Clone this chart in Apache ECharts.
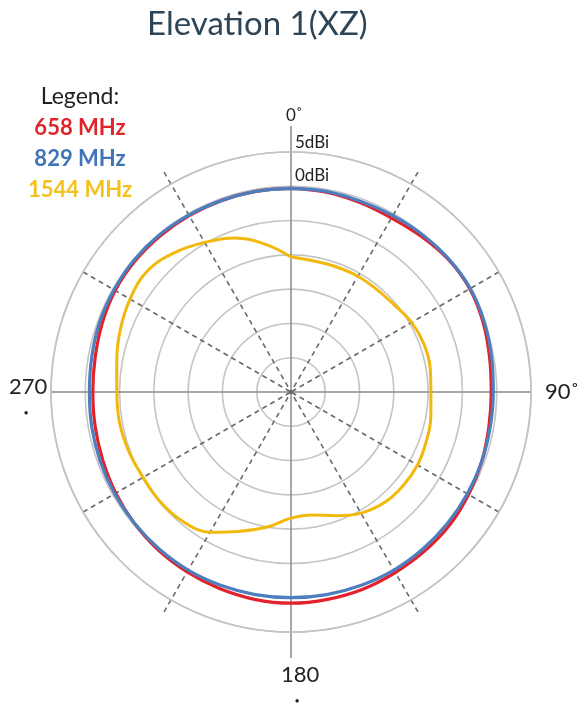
<!DOCTYPE html>
<html>
<head>
<meta charset="utf-8">
<script src="https://cdn.jsdelivr.net/npm/echarts@6/dist/echarts.min.js"></script>
<style>
html,body{margin:0;padding:0;background:#fff;}
#main{width:581px;height:705px;}
</style>
</head>
<body>
<div id="main"></div>
<script>
// Angles (degrees, clockwise from 0 at top), 10-degree steps, closed at 360
const angles = [0,10,20,30,40,50,60,70,80,90,100,110,120,130,140,150,160,170,180,190,200,210,220,230,240,250,260,270,280,290,300,310,320,330,340,350,360];
// Gain in dBi
const red658 = [-0.3,-0.4,-0.6,-0.7,-0.4,0.0,0.1,-0.2,-0.6,-0.8,-0.7,-0.4,-0.1,0.2,0.3,0.4,0.6,0.7,0.8,0.7,0.5,0.3,0.1,-0.2,-0.5,-0.8,-1.0,-1.1,-1.0,-0.7,-0.4,-0.3,-0.3,-0.3,-0.3,-0.3,-0.3];
const blue829 = [-0.3,-0.3,-0.4,-0.3,-0.1,0.1,0.2,0.0,-0.3,-0.5,-0.5,-0.4,-0.3,-0.2,-0.1,0.0,0.0,0.0,0.0,0.0,0.0,0.0,-0.1,-0.2,-0.3,-0.4,-0.5,-0.6,-0.5,-0.3,-0.2,-0.1,-0.1,-0.2,-0.3,-0.3,-0.3];
const yellow1544 = [-10.3,-10.6,-10.6,-10.5,-10.5,-10.3,-9.7,-9.4,-9.4,-9.6,-9.3,-9.0,-8.7,-8.7,-8.9,-9.6,-10.8,-11.8,-11.6,-10.0,-8.4,-6.4,-5.4,-5.1,-5.1,-4.8,-4.6,-4.6,-4.2,-3.5,-2.9,-2.6,-3.5,-4.8,-6.1,-8.1,-10.3];
const seriesNames = ['658 MHz','829 MHz','1544 MHz'];
const radiusTicks = [-30,5,5]; // min, max, interval

const chart = echarts.init(document.getElementById('main'));
const C = [291, 392];
const R = 240;
const FONT = 'Lato';

function deco(startAngle, radius, dashed, color){
  return {
    polar: {center: C, radius: radius},
    angle: {type:'value', min:0, max:360, interval:180, startAngle: startAngle,
      axisLine:{show:false}, axisTick:{show:false}, axisLabel:{show:false},
      splitLine:{show:true, lineStyle:{color: color, width: dashed?1.6:1.5, type: dashed?[5,4]:'solid'}}},
    radius: {type:'value', min:0, max:1, show:false, splitLine:{show:false}}
  };
}
const decos = [
  deco(90, 266, false, '#8a8a8a'),   // vertical axis extended
  deco(180, R, false, '#8a8a8a'),    // horizontal axis
  deco(60, 254, true, '#6a6a6a'),    // 30 / 210
  deco(120, 254, true, '#6a6a6a'),   // 330 / 150
  deco(30, R, true, '#6a6a6a'),      // 60 / 240
  deco(150, R, true, '#6a6a6a')      // 300 / 120
];

const polar = [{center: C, radius: R}];
const angleAxis = [{polarIndex:0, type:'value', min:0, max:360, interval:90, startAngle:90, clockwise:true,
  axisLine:{show:true, lineStyle:{color:'#c4c4c4', width:1.6}},
  axisTick:{show:false}, axisLabel:{show:false}, splitLine:{show:false}}];
const radiusAxis = [{polarIndex:0, type:'value', min:radiusTicks[0], max:radiusTicks[1], interval:radiusTicks[2],
  axisLine:{show:false}, axisTick:{show:false}, axisLabel:{show:false},
  splitLine:{show:true, lineStyle:{color:'#c4c4c4', width:1.6}}}];
decos.forEach((d,i)=>{
  polar.push(d.polar);
  d.angle.polarIndex = i+1; d.radius.polarIndex = i+1;
  angleAxis.push(d.angle); radiusAxis.push(d.radius);
});

function mk(vals){ return angles.map((a,i)=>[vals[i], a]); }

const txt = (x,y,t,size,extra)=>Object.assign({type:'text', x:x, y:y, z:10,
  style:Object.assign({text:t, font: 'normal '+size+'px '+FONT, fill:'#222', textVerticalAlign:'middle'}, extra||{})});

chart.setOption({
  animation:false,
  title:{text:'Elevation 1(XZ)', left:142, top:3,
    textStyle:{fontFamily:FONT, fontSize:33, fontWeight:'normal', color:'#2d4556'}},
  legend:{orient:'vertical', left:20, top:117, padding:0, itemWidth:0, itemHeight:0, itemGap:9, icon:'none',
    selectedMode:false,
    formatter: n=>'{a|'+n+'}',
    textStyle:{fontFamily:FONT, fontSize:22, fontWeight:'bold', lineHeight:22,
      rich:{a:{width:110, align:'center', fontFamily:FONT, fontSize:22, fontWeight:'bold'}}},
    data:[
      {name:seriesNames[0], textStyle:{color:'#e0252a'}},
      {name:seriesNames[1], textStyle:{color:'#3f74b6'}},
      {name:seriesNames[2], textStyle:{color:'#f4c11c'}}
    ]},
  polar: polar,
  angleAxis: angleAxis,
  radiusAxis: radiusAxis,
  series:[
    {name:seriesNames[2], type:'line', coordinateSystem:'polar', polarIndex:0, smooth:0.4, symbol:'none',
      lineStyle:{color:'#f2b80c', width:3}, data: mk(yellow1544)},
    {name:seriesNames[0], type:'line', coordinateSystem:'polar', polarIndex:0, smooth:0.4, symbol:'none',
      lineStyle:{color:'#e2212a', width:3.2}, data: mk(red658)},
    {name:seriesNames[1], type:'line', coordinateSystem:'polar', polarIndex:0, smooth:0.4, symbol:'none',
      lineStyle:{color:'#4d7fbe', width:3.2}, data: mk(blue829)}
  ],
  graphic:[
    txt(80,97,'Legend:',23,{textAlign:'center'}),
    txt(286,116,'0˚',17),
    txt(295,143,'5dBi',17),
    txt(295,176,'0dBi',17),
    txt(545,392,'90˚',22),
    txt(9,387,'270',22),
    txt(26,413,'•',9,{textAlign:'center'}),
    txt(281,675,'180',22),
    txt(297,701,'•',9,{textAlign:'center'})
  ]
});
</script>
</body>
</html>
